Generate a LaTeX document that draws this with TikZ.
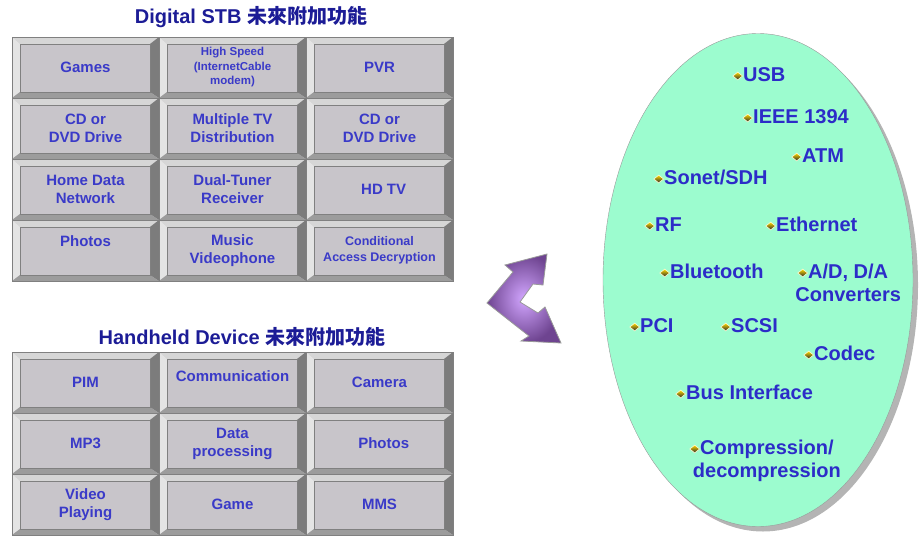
\documentclass[tikz,border=0pt]{standalone}
\usepackage{fontspec}
\setmainfont{Liberation Sans}
\newfontfamily\cjk{Noto Sans CJK TC}
\usetikzlibrary{positioning}
\usetikzlibrary{shapes.geometric}
\usetikzlibrary{shadows}
\definecolor{cellface}{HTML}{C8C5CA}
\definecolor{bevtop}{HTML}{D6D6D6}
\definecolor{bevleft}{HTML}{E4E4E4}
\definecolor{bevright}{HTML}{7C7C7C}
\definecolor{bevbottom}{HTML}{9C9C9C}
\definecolor{cellblue}{HTML}{3A3AC8}
\definecolor{titleblue}{HTML}{1C1C96}
\definecolor{itemblue}{HTML}{2C2CC8}
\definecolor{mint}{HTML}{9CFCCF}
\definecolor{shadowgray}{HTML}{B4B4B4}
\definecolor{arrowlight}{HTML}{D2A6FF}
\definecolor{arrowdark}{HTML}{6E4490}

\begin{document}
\begin{tikzpicture}
		[x=1pt, y=-1pt, node distance=0pt,
		bevel/.style={path picture={
			\coordinate (bnw) at (path picture bounding box.north west);
			\coordinate (bne) at (path picture bounding box.north east);
			\coordinate (bsw) at (path picture bounding box.south west);
			\coordinate (bse) at (path picture bounding box.south east);
			\coordinate (inw) at ([shift={(8pt,-7pt)}]bnw);
			\coordinate (ine) at ([shift={(-9pt,-7pt)}]bne);
			\coordinate (isw) at ([shift={(8pt,6pt)}]bsw);
			\coordinate (ise) at ([shift={(-9pt,6pt)}]bse);
			\fill[bevtop] (bnw) -- (bne) -- (ine) -- (inw) -- cycle;
			\fill[bevleft] (bnw) -- (inw) -- (isw) -- (bsw) -- cycle;
			\fill[bevright] (bne) -- (ine) -- (ise) -- (bse) -- cycle;
			\fill[bevbottom] (bsw) -- (isw) -- (ise) -- (bse) -- cycle;
			\draw[gray, line width=0.6pt] (inw) rectangle (ise);}},
		cell/.style={rectangle, bevel, draw=gray, fill=cellface, minimum width=147pt, minimum height=61pt, inner sep=0pt, outer sep=0pt, align=center, text=cellblue, font=\bfseries\fontsize{15}{18}\selectfont},
		title/.style={text=titleblue, font=\bfseries\fontsize{20}{24}\selectfont},
		dot/.style={diamond, minimum width=10pt, minimum height=8pt, inner sep=0pt, draw=white!85!yellow, line width=0.6pt, top color=yellow!70!orange, bottom color=black!85},
		itemtext/.style={inner sep=0pt, text height=14pt, text depth=4pt, text=itemblue, font=\bfseries\fontsize{20}{23}\selectfont},
		item/.style={itemtext, anchor=west, label={[dot, label distance=0pt]left:{}}}]
		\useasboundingbox (0,0) rectangle (921,536);

		\node[title] (stbtitle) at (251,17) {Digital STB {\cjk 未來附加功能}};
		\node[cell] (s11) at (85.5,67.5) {Games};
		\node[cell, right=of s11, font=\bfseries\fontsize{11.5}{14.5}\selectfont] (s12) {High Speed\\(InternetCable\\modem)};
		\node[cell, right=of s12] (s13) {PVR};
		\node[cell, below=of s11] (s21) {CD or\\DVD Drive};
		\node[cell, right=of s21] (s22) {Multiple TV\\Distribution};
		\node[cell, right=of s22] (s23) {CD or\\DVD Drive};
		\node[cell, below=of s21] (s31) {Home Data\\Network};
		\node[cell, right=of s31] (s32) {Dual-Tuner\\Receiver};
		\node[cell, right=of s32] (s33) {\ \ HD TV};
		\node[cell, below=of s31] (s41) {Photos\\ \mbox{}};
		\node[cell, right=of s41] (s42) {Music\\Videophone};
		\node[cell, right=of s42, font=\bfseries\fontsize{12.5}{16}\selectfont] (s43) {Conditional\\Access Decryption};

		\node[title] (hdtitle) at (242,337) {Handheld Device {\cjk 未來附加功能}};
		\node[cell] (h11) at (85.5,382.5) {PIM};
		\node[cell, right=of h11] (h12) {Communication\\[-6pt] \mbox{}};
		\node[cell, right=of h12] (h13) {Camera};
		\node[cell, below=of h11] (h21) {MP3};
		\node[cell, right=of h21] (h22) {Data\\processing};
		\node[cell, right=of h22] (h23) {\ \ Photos};
		\node[cell, below=of h21] (h31) {Video\\Playing};
		\node[cell, right=of h31] (h32) {Game};
		\node[cell, right=of h32] (h33) {MMS};

		\path[draw=gray!80, line width=0.8pt, inner color=arrowlight, outer color=arrowdark]
			(547,254) -- (543,285) -- (533,284) -- (520,302) -- (538,313) -- (545,307) -- (561,343)
			-- (521,341) -- (529,336) -- (487,303) -- (513,272) -- (505,265) -- cycle;

		\node[ellipse, minimum width=310pt, minimum height=493pt, fill=mint, draw=gray!80,
			drop shadow={shadow xshift=5pt, shadow yshift=-5pt, fill=shadowgray, opacity=1}] (bus) at (758,280) {};

		\node[item] (usb) at (743,76) {USB};
		\node[item] (ieee) at (753,118) {IEEE 1394};
		\node[item] (atm) at (802,157) {ATM};
		\node[item] (sonet) at (664,179) {Sonet/SDH};
		\node[item] (rf) at (655,226) {RF};
		\node[item] (eth) at (776,226) {Ethernet};
		\node[item] (bt) at (670,273) {Bluetooth};
		\node[item] (ad) at (808,273) {A/D, D/A};
		\node[itemtext, below=5pt of ad] (conv) {Converters};
		\node[item] (pci) at (640,327) {PCI};
		\node[item] (scsi) at (731,327) {SCSI};
		\node[item] (codec) at (814,355) {Codec};
		\node[item] (bif) at (686,394) {Bus Interface};
		\node[item] (comp) at (700,449) {Compression/};
		\node[itemtext, below=5pt of comp] (decomp) {decompression};
	\end{tikzpicture}
\end{document}
